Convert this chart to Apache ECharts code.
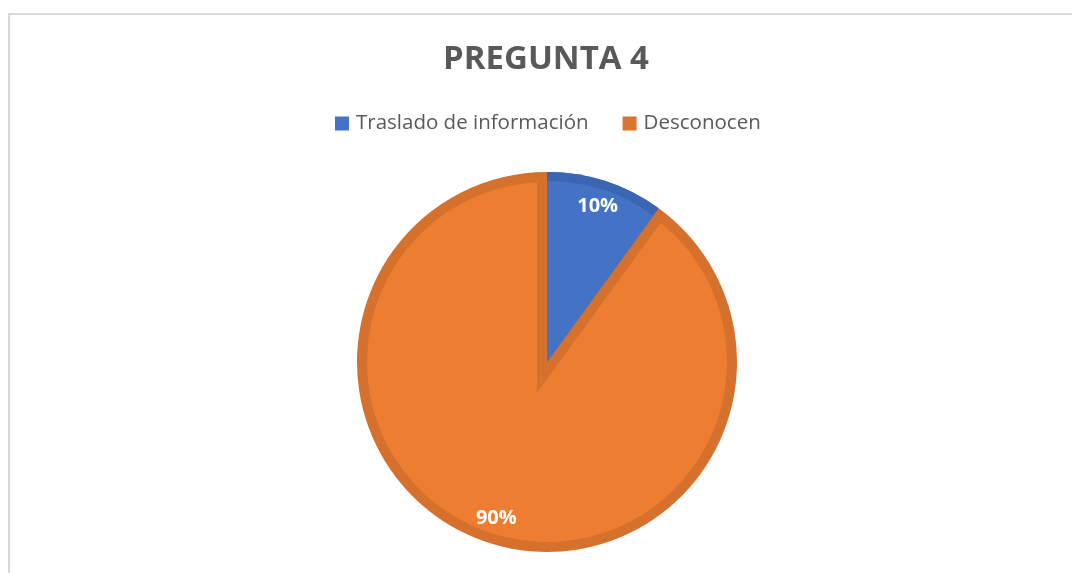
<!DOCTYPE html>
<html>
<head>
<meta charset="utf-8">
<script src="https://cdn.jsdelivr.net/npm/echarts@6/dist/echarts.min.js"></script>
<style>
html,body{margin:0;padding:0;background:#fff;}
#c{width:1072px;height:573px;}
</style>
</head>
<body>
<div id="c"></div>
<script>
const titleText = 'PREGUNTA 4';
const categories = ['Traslado de información', 'Desconocen'];
const values = [10, 90];
const fillColors = ['#4472c4', '#ed7d31'];
const borderColors = ['#3b66b4', '#d5712c'];
const legendColors = ['#4472c4', '#db742e'];

const chart = echarts.init(document.getElementById('c'), null, {renderer: 'canvas'});

// geometry (style constants)
const cx = 547, cy = 362, R = 190, band = 10;
const total = values.reduce((a, b) => a + b, 0);
const half = Math.PI * values[0] / total;           // half-angle of first slice
const k = band / Math.sin(half);                     // apex shift for inset band
const ax = cx - k * Math.sin(half), ay = cy + k * Math.cos(half);

const T = 'rgba(0,0,0,0)';
function pie(center, radius, colors, z, extra) {
  return Object.assign({
    type: 'pie', center: center, radius: radius, startAngle: 90, clockwise: true,
    silent: true, z: z, label: {show: false}, labelLine: {show: false},
    itemStyle: {borderWidth: 0},
    data: categories.map((n, i) => ({name: n, value: values[i], itemStyle: {color: colors[i]}}))
  }, extra || {});
}

chart.setOption({
  animation: false,
  backgroundColor: '#ffffff',
  graphic: [{
    type: 'rect', silent: true, z: -10,
    shape: {x: 9, y: 14, width: 1075, height: 600},
    style: {fill: 'none', stroke: '#d9d9d9', lineWidth: 2}
  }],
  title: {
    text: titleText, left: 438, top: 38,
    textStyle: {fontFamily: 'Open Sans', fontWeight: 'bold', fontSize: 33, color: '#595959'}
  },
  legend: {
    data: categories.map((n, i) => ({name: n, itemStyle: {color: legendColors[i], borderWidth: 0}})),
    top: 108, left: 330,
    icon: 'rect', itemWidth: 14, itemHeight: 14, itemGap: 34,
    itemStyle: {borderWidth: 0},
    textStyle: {fontFamily: 'Open Sans', fontSize: 20.5, color: '#595959', padding: [0, 0, 0, 2]}
  },
  series: [
    pie([cx, cy], [0, R], borderColors, 1),
    pie([cx, cy], [0, R - band], [T, fillColors[1]], 2),
    pie([ax, ay], [0, R - 2 + k], [borderColors[1], T], 3),
    pie([cx, cy], [0, R], [borderColors[0], T], 4),
    pie([cx, cy], [0, R - 9], [fillColors[0], T], 5),
    {
      type: 'pie', center: [cx, cy], radius: [132, R],
      startAngle: 90, clockwise: true, silent: true, z: 6,
      itemStyle: {color: T, borderWidth: 0},
      label: {show: true, position: 'inside', formatter: '{d}%',
        fontFamily: 'Open Sans', fontWeight: 'bold', fontSize: 20, color: '#ffffff'},
      labelLine: {show: false},
      data: categories.map((n, i) => ({name: n, value: values[i]}))
    }
  ]
});
</script>
</body>
</html>
